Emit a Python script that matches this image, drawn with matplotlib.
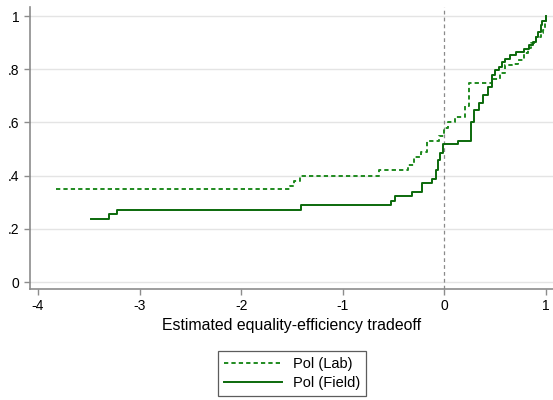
import numpy as np
import matplotlib
matplotlib.use("Agg")
import matplotlib.pyplot as plt

plt.rcParams['font.family'] = ['Liberation Sans', 'DejaVu Sans']

# step positions (x) and cumulative shares (y)
lab_x = [-3.82, -1.52, -1.48, -1.42, -0.64, -0.36, -0.30, -0.23, -0.17, -0.05,
         0.0, 0.035, 0.11, 0.20, 0.24, 0.47, 0.55, 0.60, 0.67, 0.73, 0.78,
         0.82, 0.85, 0.90, 0.95, 0.975, 0.99, 1.0]
lab_y = [0.35, 0.36, 0.38, 0.40, 0.42, 0.44, 0.47, 0.49, 0.53, 0.55,
         0.58, 0.60, 0.62, 0.66, 0.75, 0.765, 0.785, 0.815, 0.82, 0.835, 0.86,
         0.88, 0.90, 0.92, 0.935, 0.947, 0.98, 1.0]

field_x = [-3.48, -3.30, -3.22, -1.41, -0.52, -0.49, -0.32, -0.22, -0.125, -0.08,
           -0.06, -0.04, -0.01, 0.13, 0.26, 0.29, 0.34, 0.38, 0.43, 0.47,
           0.50, 0.54, 0.57, 0.60, 0.65, 0.71, 0.78, 0.83, 0.87, 0.90,
           0.92, 0.95, 0.965, 1.0]
field_y = [0.237, 0.256, 0.27, 0.29, 0.305, 0.323, 0.338, 0.371, 0.387, 0.42,
           0.46, 0.484, 0.519, 0.53, 0.60, 0.647, 0.672, 0.703, 0.734, 0.778,
           0.797, 0.81, 0.828, 0.84, 0.853, 0.866, 0.875, 0.89, 0.903, 0.922,
           0.94, 0.966, 0.982, 1.0]

xticks = [-4, -3, -2, -1, 0, 1]
yticks = [0, 0.2, 0.4, 0.6, 0.8, 1.0]
ytick_labels = ['0', '.2', '.4', '.6', '.8', '1']

fig = plt.figure(figsize=(5.53, 4.0), dpi=100)
ax = fig.add_axes([0.054, 0.2775, 0.946, 0.705])

for y in yticks:
    ax.axhline(y, color='#e4e4e4', lw=1.0, zorder=0)
ax.axvline(0, color='#8a8a8a', lw=0.9, ls=(0, (3, 2.5)), zorder=1)

ax.step(lab_x, lab_y, where='post', color='#1f8a1f', lw=1.4,
        ls=(0, (2.2, 1.6)), label='Pol (Lab)')
ax.step(field_x, field_y, where='post', color='#0b690b', lw=1.4,
        label='Pol (Field)')

ax.set_xlim(-4.08, 1.07)
ax.set_ylim(-0.026, 1.034)
ax.set_xticks(xticks)
ax.set_xticklabels([str(t) for t in xticks])
ax.set_yticks(yticks)
ax.set_yticklabels(ytick_labels)

for s in ['top', 'right']:
    ax.spines[s].set_visible(False)
for s in ['left', 'bottom']:
    ax.spines[s].set_color('#8c8c8c')
    ax.spines[s].set_linewidth(1.2)
ax.tick_params(axis='both', colors='#8c8c8c', labelcolor='black',
               labelsize=10, length=4, width=1)
ax.set_xlabel('Estimated equality-efficiency tradeoff', fontsize=11.4, labelpad=3)

leg = fig.legend(*ax.get_legend_handles_labels(), loc='center',
                 bbox_to_anchor=(0.528, 0.066), fontsize=10.5, frameon=True,
                 fancybox=False, handlelength=4, handletextpad=0.7,
                 borderpad=0.45, labelspacing=0.3)
leg.get_frame().set_edgecolor('#333333')
leg.get_frame().set_linewidth(0.9)

fig.savefig('out.png', dpi=100)
